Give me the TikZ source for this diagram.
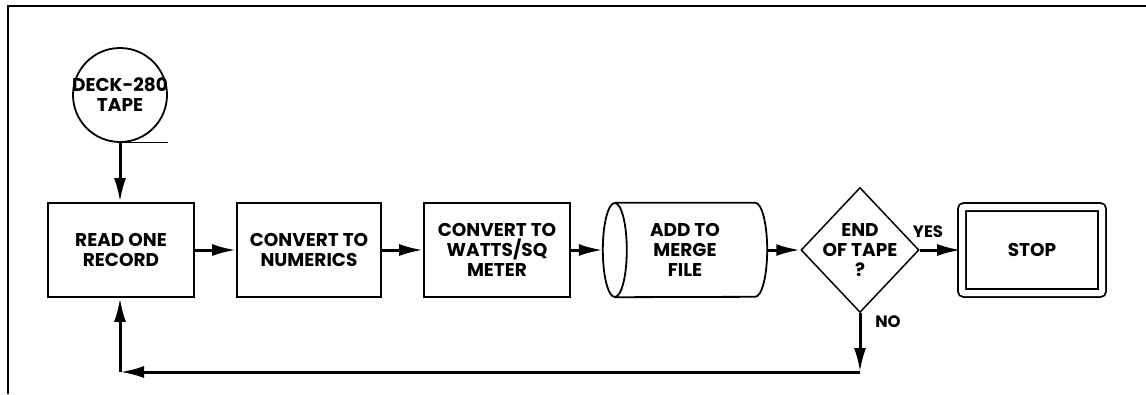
\documentclass[tikz,border=0pt]{standalone}
\usepackage{fontspec}
\setmainfont{Poppins}
\usetikzlibrary{arrows.meta,shapes.geometric}

\tikzset{
  box/.style={draw,line width=1.8pt,minimum width=146,minimum height=94,align=center,inner sep=0pt},
  flow/.style={line width=3pt,-{Latex[length=24pt,width=12pt]}},
  lbl/.style={font=\bfseries\fontsize{16.5}{19}\selectfont},
}

\begin{document}
\begin{tikzpicture}[x=1pt,y=-1pt,font=\bfseries\fontsize{18.5}{20}\selectfont]
  \useasboundingbox (0,0) rectangle (1146,394);
  % frame
  \draw[line width=2.4pt] (8,394) -- (8,6) -- (1146,6);
  % tape
  \node[draw,circle,line width=1.8pt,minimum size=94,inner sep=-6pt,align=center] (tape) at (120,95) {DECK-280\\TAPE};
  \draw[line width=1pt] (tape.south) -- ++(48,0);
  % steps
  \node[box] (read) at (121,250) {READ ONE\\RECORD};
  \node[box,minimum width=144] (numerics) at (309,250) {CONVERT TO\\NUMERICS};
  \node[box] (watts) at (497,250) {CONVERT TO\\WATTS/SQ\\METER};
  \node[minimum width=164,minimum height=94,align=center,inner sep=0pt] (merge) at (685,250) {ADD TO\\MERGE\\FILE};
  \draw[line width=1.8pt] ([xshift=12pt]merge.west) ellipse [x radius=12pt,y radius=47pt];
  \draw[line width=1.8pt] ([xshift=12pt]merge.north west) -- ([xshift=-12pt]merge.north east)
    arc[start angle=90,end angle=-90,x radius=12pt,y radius=47pt] -- ([xshift=12pt]merge.south west);
  \node[draw,diamond,line width=1.5pt,minimum width=118,minimum height=125,aspect=0.95,inner sep=-9pt,align=center] (endtape) at (860,250) {END\\OF TAPE\\?};
  \node[box,double,double distance=6pt,minimum width=140,minimum height=86,rounded corners=2pt] (stop) at (1032,250) {STOP};
  \node[lbl] (yes) at (928,232) {YES};
  \node[lbl] (no) at (888,322) {NO};
  % connectors
  \coordinate (c1) at (860,372);
  \coordinate (c2) at (120,372);
  \draw[flow] (tape.south) -- (tape.south |- read.north);
  \draw[flow] (read) -- (numerics);
  \draw[flow] (numerics) -- (watts);
  \draw[flow] (watts) -- (merge);
  \draw[flow] (merge) -- (endtape);
  \draw[flow] (endtape) -- (stop);
  \draw[flow] (endtape.south) -- (c1);
  \draw[flow] (c1) -- (c2);
  \draw[flow] (c2) -- (c2 |- read.south);
\end{tikzpicture}
\end{document}
